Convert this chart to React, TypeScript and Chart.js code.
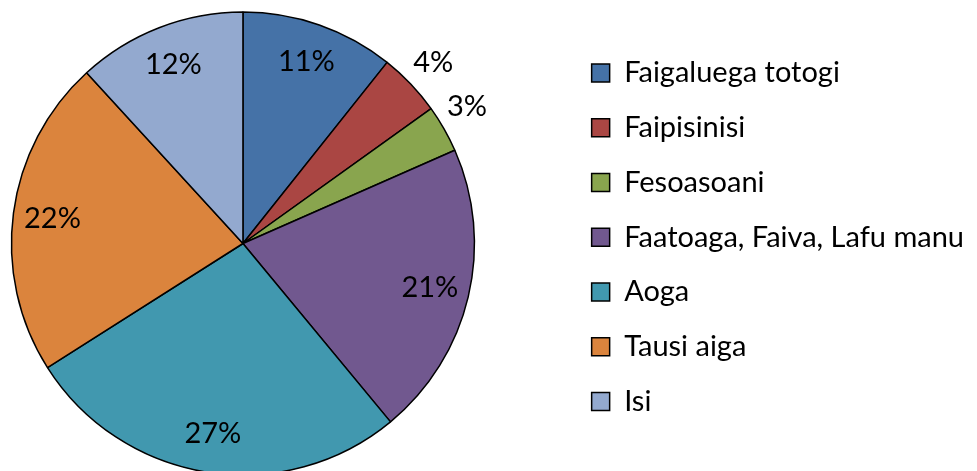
import React, { useEffect, useRef } from "react";
import { Chart, registerables } from "chart.js";

Chart.register(...registerables);

// ---- data ----
const categories = [
  "Faigaluega totogi",
  "Faipisinisi",
  "Fesoasoani",
  "Faatoaga, Faiva, Lafu manu",
  "Aoga",
  "Tausi aiga",
  "Isi",
];
const shares = [10.7, 4.4, 3.3, 20.6, 27.0, 22.2, 11.8];
const sliceColors = ["#4572A7", "#AA4643", "#89A54E", "#71588F", "#4198AF", "#DB843D", "#93A9CF"];

// ---- layout / style ----
const FONT_FAMILY = "Lato, 'Liberation Sans', sans-serif";
const FONT_SIZE = 29;
const PAGE_W = 977;
const PAGE_H = 471;
const CX = 243.3; // pie centre (page)
const CY = 243.5;
const RADIUS = 231.5;
const BOX_X = 592; // legend box left (page)
const FIRST_ITEM_CY = 73;
const ITEM_STEP = 54.75;
const BOX = 18;

const LEG_PAD = ITEM_STEP - FONT_SIZE;
const SHIFT = BOX_X - LEG_PAD - 2 * CX;
const LEGEND_LEFT = BOX_X + SHIFT - LEG_PAD;
const TOP = FIRST_ITEM_CY - FONT_SIZE / 2 - LEG_PAD;
const BOTTOM_PAD = PAGE_H - (2 * CY - TOP);

const labelPlugin = {
  id: "pctLabels",
  afterDatasetsDraw(chart: any) {
    const meta = chart.getDatasetMeta(0);
    const ctx = chart.ctx;
    const total = shares.reduce((a, b) => a + b, 0);
    ctx.save();
    ctx.font = `${FONT_SIZE}px ${FONT_FAMILY}`;
    ctx.fillStyle = "#000";
    ctx.textAlign = "center";
    ctx.textBaseline = "middle";
    meta.data.forEach((arc: any, i: number) => {
      const { x, y, startAngle, endAngle, outerRadius } = arc.getProps(
        ["x", "y", "startAngle", "endAngle", "outerRadius"],
        true
      );
      const pct = Math.round((shares[i] / total) * 100);
      const outside = pct < 5;
      const mid = (startAngle + endAngle) / 2 - (outside && i === 2 ? 0.03 : 0);
      const r = outside ? outerRadius + 31 : outerRadius * 0.83;
      ctx.fillText(pct + "%", x + Math.cos(mid) * r, y + Math.sin(mid) * r);
    });
    ctx.restore();
  },
};

export default function App() {
  const ref = useRef<HTMLCanvasElement | null>(null);

  useEffect(() => {
    document.body.style.margin = "0";
    document.body.style.overflow = "hidden";
    const canvas = ref.current!;
    const mctx = canvas.getContext("2d")!;
    mctx.font = `${FONT_SIZE}px ${FONT_FAMILY}`;
    const textW = Math.max(...categories.map((c) => mctx.measureText(c).width));
    const legendWidth = LEG_PAD + BOX + FONT_SIZE / 2 + textW + 10;
    const W = Math.ceil(LEGEND_LEFT + legendWidth) + 2;
    const padRight = W - LEGEND_LEFT - legendWidth;
    canvas.width = W;
    canvas.height = PAGE_H;
    canvas.style.width = W + "px";
    canvas.style.height = PAGE_H + "px";
    canvas.style.left = -SHIFT + "px";

    const chart = new Chart(canvas, {
      type: "pie",
      data: {
        labels: categories,
        datasets: [
          {
            data: shares,
            backgroundColor: sliceColors,
            borderColor: "#000",
            borderWidth: 1.5,
            radius: RADIUS,
            clip: false as any,
          } as any,
        ],
      },
      options: {
        responsive: false,
        animation: false,
        devicePixelRatio: 1,
        layout: {
          padding: { left: 0, right: padRight, top: TOP, bottom: BOTTOM_PAD },
        },
        plugins: {
          tooltip: { enabled: false },
          legend: {
            display: true,
            position: "right",
            align: "start",
            labels: {
              boxWidth: BOX,
              boxHeight: BOX,
              padding: LEG_PAD,
              color: "#000",
              font: { family: FONT_FAMILY, size: FONT_SIZE },
            },
          },
        },
      } as any,
      plugins: [labelPlugin],
    });
    return () => chart.destroy();
  }, []);

  return (
    <div style={{ position: "relative", width: PAGE_W, height: PAGE_H, overflow: "hidden", background: "#fff" }}>
      <canvas ref={ref} style={{ position: "absolute", top: 0, left: 0 }} />
    </div>
  );
}
